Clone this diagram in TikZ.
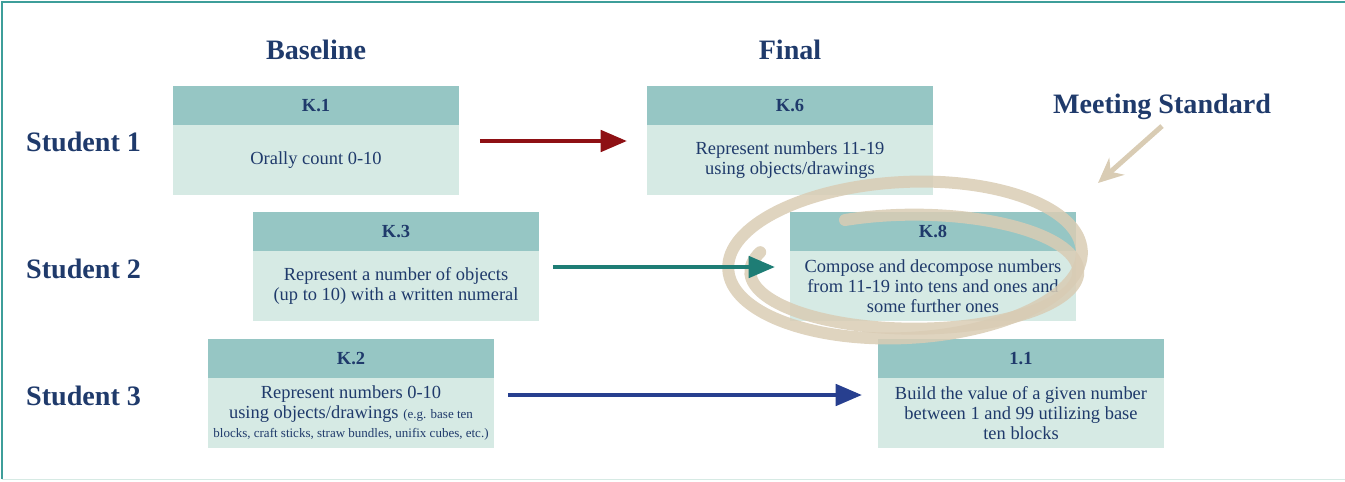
\documentclass[tikz,border=0pt]{standalone}
\usepackage{fontspec}
\setmainfont{Liberation Serif}
\usetikzlibrary{positioning, arrows.meta}

\definecolor{navy}{HTML}{1F3A6B}
\definecolor{hdrteal}{HTML}{96C6C4}
\definecolor{bodyteal}{HTML}{D6EAE4}
\definecolor{frameteal}{HTML}{3E9E9A}
\definecolor{beige}{HTML}{D9CCB4}
\definecolor{arrowred}{HTML}{8E1014}
\definecolor{arrowteal}{HTML}{1E7D75}
\definecolor{arrowblue}{HTML}{273F8F}

\tikzset{
  hdr/.style={fill=hdrteal, text=navy, minimum width=5.72cm, minimum height=0.78cm,
    inner sep=0pt, outer sep=0pt, font=\fontsize{10.5}{12}\selectfont\bfseries},
  txt/.style={fill=bodyteal, text=navy, minimum width=5.72cm, minimum height=1.4cm,
    inner sep=0pt, outer sep=0pt, align=center, font=\fontsize{10.5}{11.3}\selectfont},
  title/.style={text=navy, font=\fontsize{16}{19}\selectfont\bfseries},
  ring/.style={draw=beige, line width=0.24cm, opacity=0.85, line cap=round},
  link/.style={->, line width=2.6pt},
}

\begin{document}
\begin{tikzpicture}[x=0.02cm, y=-0.02cm, >={Triangle[length=15pt,width=12pt]}]
  \useasboundingbox (0,0) rectangle (1345,481);
  \draw [frameteal, line width=0.8pt] (2,479) -- (2,2) -- (1345,2);
  \draw [bodyteal, line width=1pt] (2,479.5) -- (1345,479.5);

  % column and row titles
  \node [title] (base) at (316,50) {Baseline};
  \node [title] (final) at (790,50) {Final};
  \node [title, anchor=west] (s1) at (20,142) {Student 1};
  \node [title, anchor=west] (s2) at (20,269) {Student 2};
  \node [title, anchor=west] (s3) at (20,396) {Student 3};
  \node [title] (meet) at (1162,107) {Meeting Standard};

  % standards
  \node [hdr] (k1) at (316,105.5) {K.1};
  \node [txt, below=0pt of k1] (k1b) {Orally count 0-10};
  \node [hdr] (k6) at (790,105.5) {K.6};
  \node [txt, below=0pt of k6] (k6b) {Represent numbers 11-19\\using objects/drawings};
  \node [hdr] (k3) at (396,231.5) {K.3};
  \node [txt, below=0pt of k3] (k3b) {Represent a number of objects\\(up to 10) with a written numeral};
  \node [hdr] (k8) at (933,231.5) {K.8};
  \node [txt, below=0pt of k8] (k8b) {Compose and decompose numbers\\from 11-19 into tens and ones and\\some further ones};
  \node [hdr] (k2) at (351,358.5) {K.2};
  \node [txt, below=0pt of k2] (k2b) {Represent numbers 0-10\\using objects/drawings {\fontsize{7.4}{9}\selectfont(e.g. base ten}\\
    {\fontsize{7.4}{9}\selectfont blocks, craft sticks, straw bundles, unifix cubes, etc.)}};
  \node [hdr] (g1) at (1021,358.5) {1.1};
  \node [txt, below=0pt of g1] (g1b) {Build the value of a given number\\between 1 and 99 utilizing base\\ten blocks};

  % circled goal
  \draw [ring, rotate around={3:(905,260)}] (905,260) ellipse [x radius=177, y radius=78];
  \draw [ring] (845,220) arc [start angle=245, end angle=560, x radius=164, y radius=57];
  \coordinate (tip) at (1098,183);
  \draw [beige, line width=0.1cm, -{Stealth[length=0.5cm,width=0.45cm]}] (meet.south) -- (tip);

  % progress
  \draw [link, arrowred] ([shift={(21,16)}]k1b.north east) -- ([shift={(-20,16)}]k6b.north west);
  \draw [link, arrowteal] ([shift={(14,16)}]k3b.north east) -- ([shift={(-15,16)}]k8b.north west);
  \draw [link, arrowblue] ([shift={(14,17)}]k2b.north east) -- ([shift={(-16,17)}]g1b.north west);
\end{tikzpicture}
\end{document}
